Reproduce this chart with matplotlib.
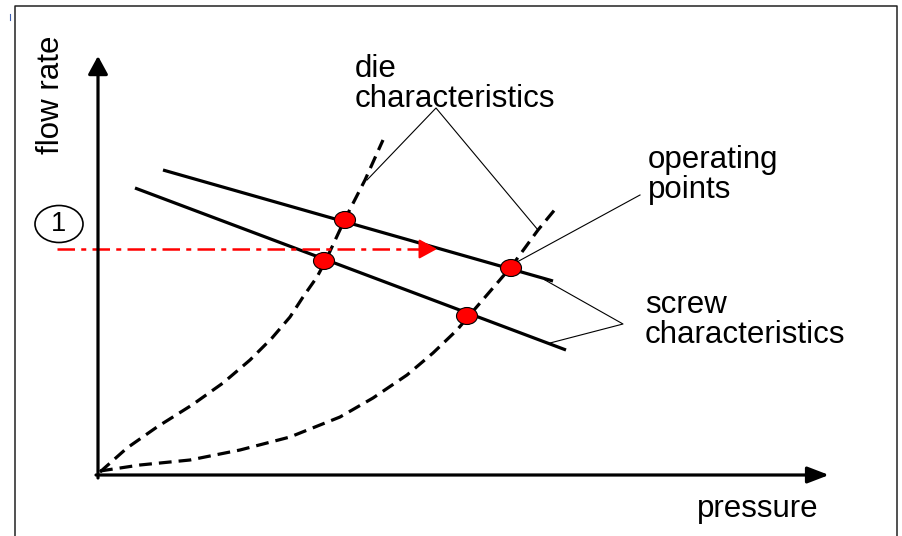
import matplotlib
matplotlib.use("Agg")
import matplotlib.pyplot as plt
from matplotlib.patches import Ellipse

plt.rcParams['font.family'] = ['Liberation Sans', 'DejaVu Sans']

# ---- data (pressure, flow rate) in schematic units ----
screw_upper_p = [65, 455]
screw_upper_q = [305, 194]
screw_lower_p = [37, 468]
screw_lower_q = [287, 125]

die1_p = [2, 29, 59, 94, 125, 152, 174, 192, 205, 219, 227, 247, 267, 285]
die1_q = [3, 27, 48, 70, 92, 115, 137, 158, 178, 198, 213, 256, 295, 335]
die2_p = [2, 42, 92, 142, 192, 242, 275, 309, 335, 359, 370, 413, 440, 459]
die2_q = [4, 10, 15, 25, 38, 58, 77, 100, 122, 145, 158, 208, 245, 268]

op_p = [247, 226, 413, 369]
op_q = [255, 214, 207, 159]

level1_q = 226
level1_p = [-41, 339]

axis_p_max = 731
axis_q_max = 419

fig = plt.figure(figsize=(9.03, 5.36), dpi=100)
ax = fig.add_axes([0, 0, 1, 1])
ax.set_xlim(-98, 805)
ax.set_ylim(-61, 475)
ax.axis('off')

# frame
ax.plot([-83, -83, 799, 799], [-70, 469, 469, -70], color='#222222', lw=1.1, solid_capstyle='butt')
ax.plot([-88, -88], [455, 461], color='#4060b0', lw=0.8)

# axes arrows
ax.annotate('', xy=(0, axis_q_max), xytext=(0, -3),
            arrowprops=dict(arrowstyle='-|>,head_length=0.55,head_width=0.3',
                            color='black', lw=2.3, mutation_scale=20,
                            shrinkA=0, shrinkB=0))
ax.annotate('', xy=(axis_p_max, 0), xytext=(-2, 0),
            arrowprops=dict(arrowstyle='-|>,head_length=0.65,head_width=0.25',
                            color='black', lw=2.3, mutation_scale=20,
                            shrinkA=0, shrinkB=0))

# die characteristics (dashed)
for p, q in ((die1_p, die1_q), (die2_p, die2_q)):
    ax.plot(p, q, color='black', lw=2.3, linestyle=(0, (4.0, 2.2)),
            solid_joinstyle='round', dash_joinstyle='round')

# screw characteristics
ax.plot(screw_upper_p, screw_upper_q, color='black', lw=2.3, solid_capstyle='butt')
ax.plot(screw_lower_p, screw_lower_q, color='black', lw=2.3, solid_capstyle='butt')

# red dash-dot level line with arrow
ax.plot([level1_p[0], level1_p[1] - 12], [level1_q, level1_q], color='#ff0000',
        lw=1.8, linestyle=(0, (7, 2.5, 2, 2.5)))
ax.annotate('', xy=(level1_p[1], level1_q), xytext=(level1_p[1] - 14, level1_q),
            arrowprops=dict(arrowstyle='-|>,head_length=0.55,head_width=0.3',
                            color='#ff0000', lw=1.5, mutation_scale=20,
                            shrinkA=0, shrinkB=0))

# circle "1"
ax.add_patch(Ellipse((-39, 251), 48, 37, facecolor='none', edgecolor='black', lw=1.2))
ax.text(-39, 251, '1', fontsize=19.5, ha='center', va='center')

# annotation lines
ann_lw = 0.8
ax.plot([269, 338, 440], [295, 367, 245], color='black', lw=ann_lw)
ax.plot([542, 419], [280, 213], color='black', lw=ann_lw)
ax.plot([447, 525, 452], [195, 151, 132], color='black', lw=ann_lw)

# operating points
for p, q in zip(op_p, op_q):
    ax.add_patch(Ellipse((p, q), 21, 17, facecolor='#ff0000', edgecolor='black',
                         lw=0.8, zorder=5))

fs = 22.5
ax.text(257, 398, 'die', fontsize=fs, ha='left', va='baseline')
ax.text(257, 368, 'characteristics', fontsize=fs, ha='left', va='baseline')
ax.text(550, 307, 'operating', fontsize=fs, ha='left', va='baseline')
ax.text(550, 277, 'points', fontsize=fs, ha='left', va='baseline')
ax.text(547, 162, 'screw', fontsize=fs, ha='left', va='baseline')
ax.text(547, 132, 'characteristics', fontsize=fs, ha='left', va='baseline')
ax.text(599, -42, 'pressure', fontsize=fs, ha='left', va='baseline')
ax.text(-47, 380, 'flow rate', fontsize=fs, ha='center', va='center', rotation=90)

fig.savefig('out.png', dpi=100)
